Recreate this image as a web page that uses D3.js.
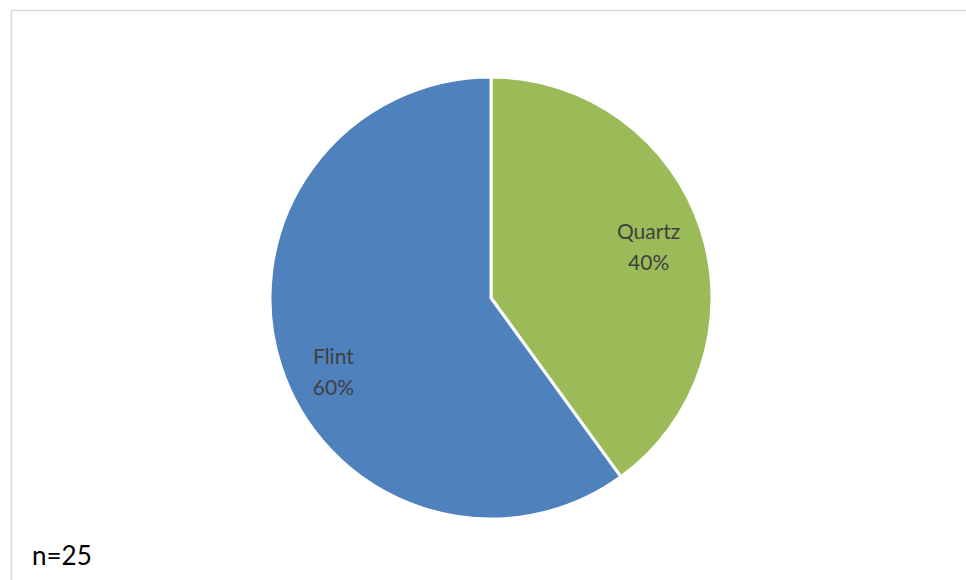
<!DOCTYPE html>
<html lang="en">
<head>
<meta charset="UTF-8"/>
<title>Raw material pie</title>
<script src="https://d3js.org/d3.v7.min.js"></script>
<style>
	body { margin: 0; background: #fff; }
	svg { display: block; }
</style>
</head>
<body>
<div id="chart-container"></div>
<script>
	var w = 966;
	var h = 580;

	// data
	var categories = ["Quartz", "Flint"];
	var values = [40, 60];
	var colours = ["#9bbb59", "#4f81bd"];
	var note = "n=25";

	var cx = 491, cy = 298, r = 221;

	var svg = d3.select("#chart-container")
		.append("svg")
		.attr("width", w)
		.attr("height", h);

	// chart area border
	svg.append("rect")
		.attr("x", 11.5)
		.attr("y", 10.5)
		.attr("width", w)
		.attr("height", h)
		.attr("fill", "none")
		.attr("stroke", "#d9d9d9")
		.attr("stroke-width", 1.5);

	var dataset = categories.map(function (c, i) {
		return { name: c, value: values[i] };
	});

	var pie = d3.pie()
		.sort(null)
		.value(function (d) { return d.value; });

	var arc = d3.arc()
		.innerRadius(0)
		.outerRadius(r);

	var labelArc = d3.arc()
		.innerRadius(r * 0.75)
		.outerRadius(r * 0.75);

	var g = svg.append("g")
		.attr("transform", "translate(" + cx + "," + cy + ")");

	var arcs = pie(dataset);

	g.selectAll("path")
		.data(arcs)
		.enter()
		.append("path")
		.attr("d", arc)
		.attr("fill", function (d, i) { return colours[i]; })
		.attr("stroke", "#fff")
		.attr("stroke-width", 3)
		.attr("stroke-linejoin", "round");

	var total = d3.sum(values);
	// Excel nudges the lower label down a little
	var dyShift = { "Quartz": -2, "Flint": 21 };

	var labels = g.selectAll("text.lbl")
		.data(arcs)
		.enter()
		.append("text")
		.attr("class", "lbl")
		.attr("transform", function (d) {
			var c = labelArc.centroid(d);
			return "translate(" + c[0] + "," + (c[1] + dyShift[d.data.name]) + ")";
		})
		.attr("text-anchor", "middle")
		.attr("font-family", "Lato, 'Open Sans', sans-serif")
		.attr("font-size", "21px")
		.attr("fill", "#404040");

	labels.append("tspan")
		.attr("x", 0)
		.attr("y", -6)
		.text(function (d) { return d.data.name; });

	labels.append("tspan")
		.attr("x", 0)
		.attr("y", 25)
		.text(function (d) { return Math.round(d.data.value / total * 100) + "%"; });

	svg.append("text")
		.attr("x", 32)
		.attr("y", 565)
		.attr("font-family", "Lato, 'Open Sans', sans-serif")
		.attr("font-size", "26px")
		.attr("fill", "#000")
		.text(note);
</script>
</body>
</html>
